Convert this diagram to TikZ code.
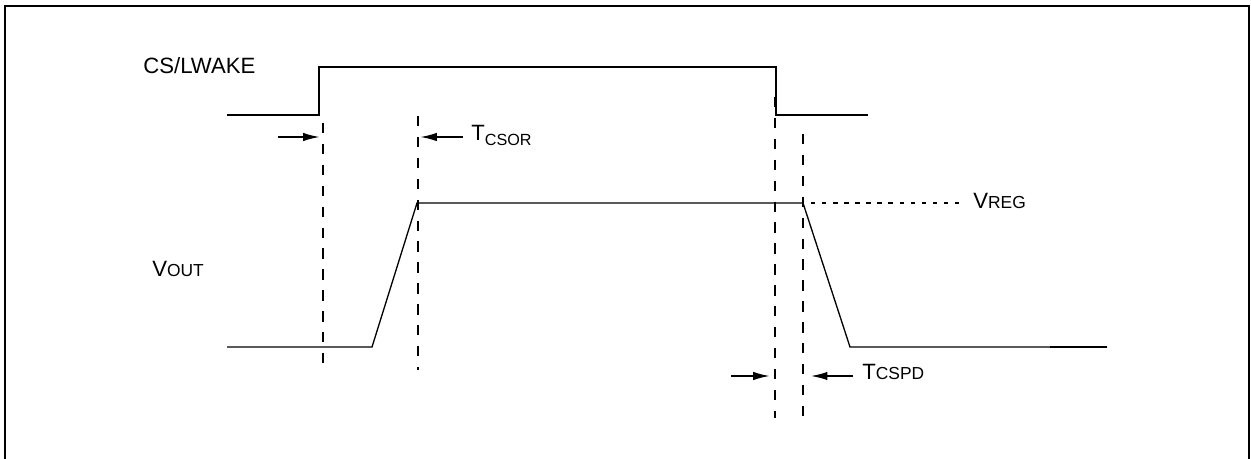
\documentclass[tikz,border=0pt]{standalone}
\usepackage{fontspec}
\setmainfont{Liberation Sans}
\usepackage{tikz}
\usetikzlibrary{arrows.meta}
\newcommand{\bigsz}{\fontsize{12.6}{14}\selectfont}
\newcommand{\smallsz}{\fontsize{9.9}{11}\selectfont}
\newcommand{\subsz}{\fontsize{9.2}{10}\selectfont}

\begin{document}
\begin{tikzpicture}[x=0.02cm,y=-0.02cm,
    sig/.style={line width=1.15pt},
    vsig/.style={line width=0.75pt},
    marker/.style={line width=1.15pt,dash pattern=on 5.9pt off 6pt},
    levelline/.style={line width=1.1pt,dash pattern=on 2.5pt off 3.8pt},
    timearrow/.style={line width=1.1pt,-{Latex[length=9.6pt,width=4.8pt]}},
    lbl/.style={anchor=base west,inner sep=0pt,font=\bigsz}]
\useasboundingbox (0,0) rectangle (1251,459);
\draw[line width=1.15pt] (5,459) -- (5,6) -- (1249,6) -- (1249,459);

% signals
\draw[sig] (227,115) -- (319,115) -- (319,67) -- (776,67) -- (776,115) -- (868,115);
\draw[vsig] (227,347) -- (372,347) -- (417,203) -- (803,203) -- (850,347) -- (1107,347);
\draw[sig] (1050,347) -- (1107,347);

% markers
\coordinate (d1top) at (323,123);
\coordinate (d1bot) at (323,372);
\coordinate (d2top) at (418,116);
\coordinate (d2bot) at (418,370);
\coordinate (d3top) at (775,97);
\coordinate (d3bot) at (775,418);
\coordinate (d4top) at (803,134);
\coordinate (d4bot) at (803,416);
\draw[marker] (d1top) -- (d1bot);
\draw[marker] (d2top) -- (d2bot);
\draw[marker] (d3top) -- (d3bot);
\draw[marker] (d4top) -- (d4bot);

\coordinate (lvlstart) at (811,203);
\coordinate (lvlend) at (960,203);
\draw[levelline] (lvlstart) -- (lvlend);

% arrows
\coordinate (a1) at (278,137);
\coordinate (a2) at (463,137);
\coordinate (a3) at (731,376);
\coordinate (a4) at (853,376);
\draw[timearrow,shorten >=1.7pt] (a1) -- (a1 -| d1top);
\draw[timearrow,shorten >=1.1pt] (a2) -- (a2 -| d2top);
\draw[timearrow,shorten >=2.8pt] (a3) -- (a3 -| d3top);
\draw[timearrow,shorten >=4.3pt] (a4) -- (a4 -| d4top);

% labels
\node[lbl] (cslbl) at (143,74) {CS/LWAKE};
\node[lbl] (voutlbl) at (152,276) {V{\smallsz OUT}};
\node[lbl] (vreglbl) at (973,209) {V{\smallsz REG}};
\node[lbl] (tcsor) at (471,141) {T\raisebox{-2.8pt}{\subsz CSOR}};
\node[lbl] (tcspd) at (862,379) {T{\smallsz CSPD}};
\end{tikzpicture}
\end{document}
